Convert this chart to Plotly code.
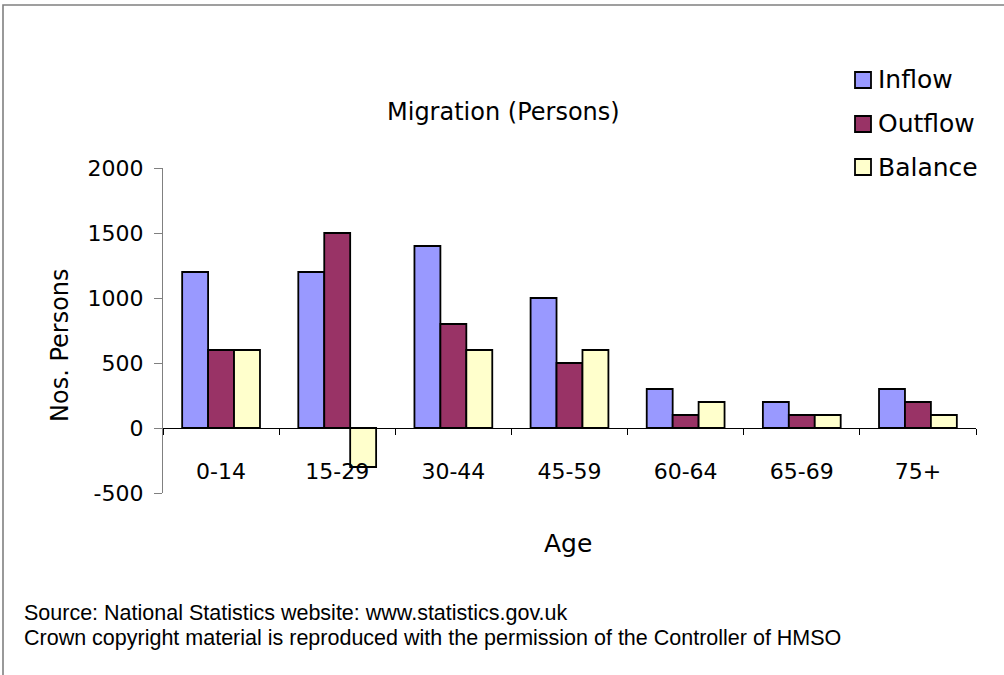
import plotly.graph_objects as go

age_groups = ["0-14", "15-29", "30-44", "45-59", "60-64", "65-69", "75+"]
inflow = [1200, 1200, 1400, 1000, 300, 200, 300]
outflow = [600, 1500, 800, 500, 100, 100, 200]
balance = [600, -300, 600, 600, 200, 100, 100]
y_ticks = [-500, 0, 500, 1000, 1500, 2000]
y_tick_text = ["-500", "0", "500", "1000", "1500", "2000"]

W, H = 1004, 675
ML, MR, MT, MB = 163, 28, 168, 182
PW = W - ML - MR
PH = H - MT - MB
Y_MIN, Y_MAX = -500, 2000

FONT = "DejaVu Sans"


def px_x(px):
    return (px - ML) / PW


def px_y(py):
    return (H - MB - py) / PH


series = [
    ("Inflow", inflow, "#9999FF"),
    ("Outflow", outflow, "#993366"),
    ("Balance", balance, "#FFFFCC"),
]

fig = go.Figure()
for name, vals, color in series:
    fig.add_trace(go.Bar(
        x=age_groups, y=vals, name=name,
        marker=dict(color=color, line=dict(color="black", width=1.8)),
        showlegend=False,
    ))


def label(text, x, y, size, **kw):
    d = dict(text=text, x=px_x(x), y=px_y(y), xref="paper", yref="paper",
             showarrow=False, xanchor="center", yanchor="middle",
             font=dict(family=FONT, size=size, color="black"))
    d.update(kw)
    return d


foot_font = dict(family="Liberation Sans", size=21.5, color="black")
annotations = [
    label("Migration (Persons)", 503, 112, 24),
    label("Nos. Persons", 60, 345, 24, textangle=-90),
    label("Age", 568, 543, 25),
    label("Source: National Statistics website: www.statistics.gov.uk",
          22, 613, 21, xanchor="left", font=foot_font),
    label("Crown copyright material is reproduced with the permission of the Controller of HMSO",
          22, 638, 21, xanchor="left", font=foot_font),
]

shapes = [
    dict(type="rect", xref="paper", yref="paper",
         x0=px_x(3), x1=px_x(1012), y0=px_y(685), y1=px_y(5),
         line=dict(color="#808080", width=1.6), fillcolor="rgba(0,0,0,0)",
         layer="above"),
]

# Legend: swatch boxes with series names beside them
legend_rows = [80, 124, 167]
for (name, _, color), cy in zip(series, legend_rows):
    shapes.append(dict(type="rect", xref="paper", yref="paper",
                       x0=px_x(855), x1=px_x(871),
                       y0=px_y(cy + 8), y1=px_y(cy - 8),
                       fillcolor=color, line=dict(color="black", width=1.8)))
    annotations.append(label(name, 876, cy, 25, xanchor="left"))

fig.update_layout(
    width=W, height=H,
    margin=dict(l=ML, r=MR, t=MT, b=MB),
    paper_bgcolor="white", plot_bgcolor="white",
    barmode="group", bargap=0.33, bargroupgap=0,
    font=dict(family=FONT, color="black"),
    showlegend=False,
    xaxis=dict(
        anchor="free", position=(0 - Y_MIN) / (Y_MAX - Y_MIN),
        showline=True, linecolor="black", linewidth=1.2,
        ticks="outside", tickson="boundaries", ticklen=6,
        tickcolor="black", tickwidth=1,
        tickfont=dict(family=FONT, size=22, color="black"),
        ticklabelstandoff=23,
        showgrid=False, zeroline=False,
    ),
    yaxis=dict(
        range=[Y_MIN, Y_MAX], tickvals=y_ticks, ticktext=y_tick_text,
        showline=True, linecolor="#808080", linewidth=1.2,
        ticks="outside", ticklen=8, tickcolor="#808080",
        tickfont=dict(family=FONT, size=22, color="black"),
        ticklabelstandoff=6,
        showgrid=False, zeroline=True, zerolinecolor="black",
        zerolinewidth=1.2,
    ),
    annotations=annotations,
    shapes=shapes,
)

fig.write_html("out.html")
